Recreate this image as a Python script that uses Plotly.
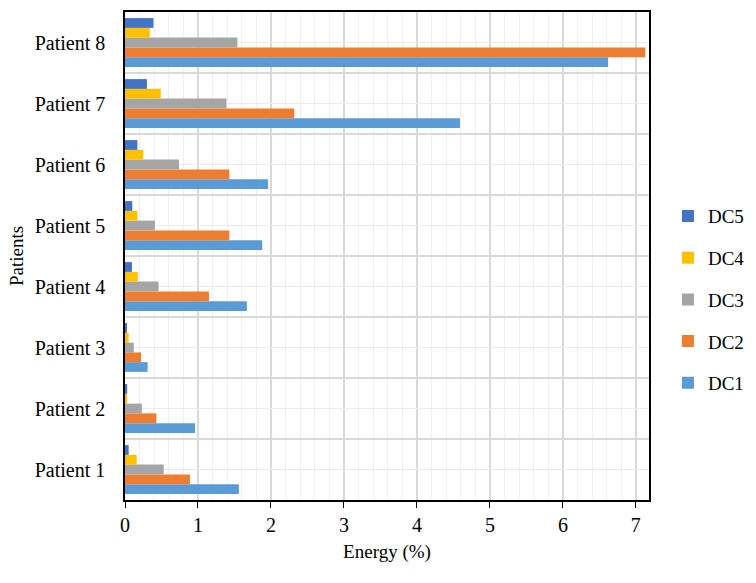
import plotly.graph_objects as go

patients = ["Patient 1", "Patient 2", "Patient 3", "Patient 4",
            "Patient 5", "Patient 6", "Patient 7", "Patient 8"]
series_names = ["DC1", "DC2", "DC3", "DC4", "DC5"]
dc1 = [1.56, 0.96, 0.31, 1.67, 1.88, 1.96, 4.59, 6.62]
dc2 = [0.89, 0.43, 0.22, 1.15, 1.43, 1.43, 2.32, 7.13]
dc3 = [0.53, 0.23, 0.12, 0.46, 0.41, 0.74, 1.39, 1.54]
dc4 = [0.16, 0.03, 0.05, 0.175, 0.17, 0.25, 0.49, 0.34]
dc5 = [0.05, 0.03, 0.02, 0.095, 0.10, 0.17, 0.30, 0.39]
colors = ["#5B9BD5", "#ED7D31", "#A5A5A5", "#FFC000", "#4472C4"]
x_ticks = [0, 1, 2, 3, 4, 5, 6, 7]

FONT = "Liberation Serif"
values = [dc1, dc2, dc3, dc4, dc5]

fig = go.Figure()
n = len(series_names)
for i, (name, vals, col) in enumerate(zip(series_names, values, colors)):
    fig.add_trace(go.Bar(
        y=patients, x=vals, name=name, orientation="h",
        marker=dict(color=col, line=dict(width=0)),
        legendgroup=name, legendrank=n - i,
    ))

# invisible helper trace on overlay axis for center gridlines
fig.add_trace(go.Scatter(x=[None], y=[None], yaxis="y2", showlegend=False,
                         hoverinfo="skip"))

fig.update_layout(
    width=756, height=583,
    margin=dict(l=125, r=107, t=12, b=83),
    paper_bgcolor="white", plot_bgcolor="white",
    barmode="group", bargap=0.2, bargroupgap=0,
    font=dict(family=FONT, size=19, color="#000000"),
    legend=dict(
        xref="container", yref="container",
        x=0.992, xanchor="right", y=0.486, yanchor="middle",
        traceorder="grouped", tracegroupgap=14,
        font=dict(family=FONT, size=19, color="#000000"),
        bgcolor="rgba(0,0,0,0)",
    ),
    xaxis=dict(
        range=[0, 7.18], tickvals=x_ticks, ticks="outside", ticklen=6,
        tickcolor="#000000", showline=True, linecolor="#000000", linewidth=1.5,
        mirror=True, showgrid=True, gridcolor="#D9D9D9", gridwidth=1.5,
        minor=dict(dtick=0.2, showgrid=True, gridcolor="#F0F0F0", gridwidth=1),
        zeroline=False, automargin=False,
        title=dict(text="Energy (%)", standoff=10, font=dict(family=FONT, size=19)),
        tickfont=dict(family=FONT, size=20),
    ),
    yaxis=dict(
        type="category", categoryorder="array", categoryarray=patients,
        range=[-0.5, 7.5], tickson="boundaries", ticks="",
        showline=True, linecolor="#000000", linewidth=1.5, mirror=True,
        showgrid=True, gridcolor="#D9D9D9", gridwidth=1.5, automargin=False,
        title=dict(text="Patients", standoff=6, font=dict(family=FONT, size=19)),
        tickfont=dict(family=FONT, size=20), ticklabelstandoff=14,
    ),
    yaxis2=dict(
        overlaying="y", range=[-0.5, 7.5], tick0=0, dtick=1,
        showgrid=True, gridcolor="#EBEBEB", gridwidth=1,
        showticklabels=False, zeroline=False, showline=False, automargin=False,
    ),
)

fig.write_html("out.html", config={"displayModeBar": False},
               post_script="document.body.style.margin='0';document.body.style.padding='0';")
